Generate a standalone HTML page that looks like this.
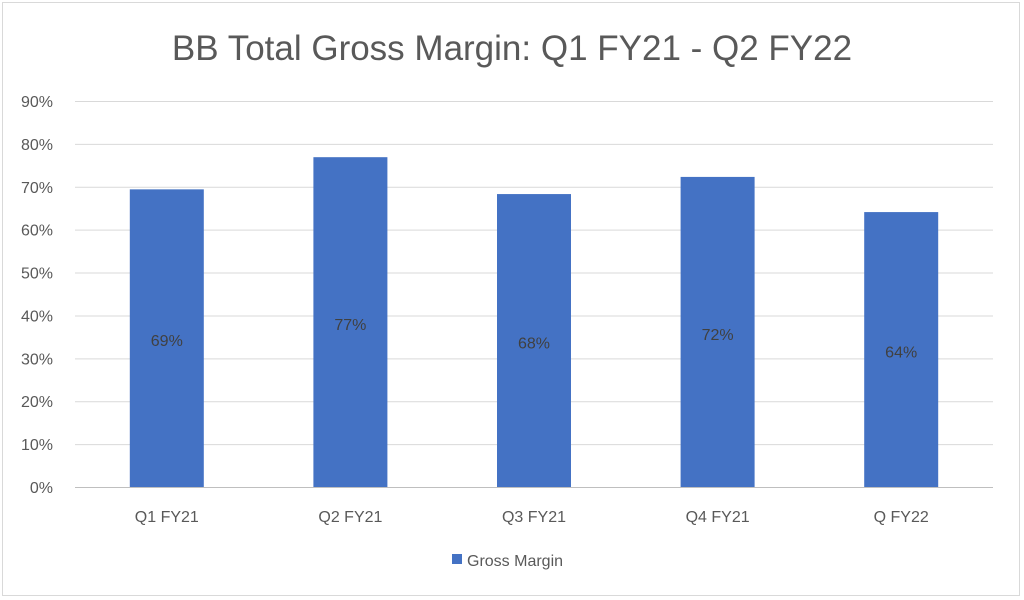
<!DOCTYPE html>
<html><head><meta charset="utf-8"><style>
html,body{margin:0;padding:0;background:#fff;}
svg{display:block;font-family:"Liberation Sans",sans-serif;}
</style></head><body>
<svg id="chart" width="1024" height="600">
<rect x="2.5" y="2.5" width="1017" height="593" fill="#fff" stroke="#d9d9d9"/>
<text x="512" y="60" text-anchor="middle" font-size="35" fill="#595959">BB Total Gross Margin: Q1 FY21 - Q2 FY22</text>
<g id="grid"></g><g id="bars"></g><g id="labels"></g>
<rect x="452" y="554" width="10" height="10" fill="#4472c4"/>
<text x="467" y="566" font-size="16" fill="#595959">Gross Margin</text>
</svg>
<script>
const categories=["Q1 FY21","Q2 FY21","Q3 FY21","Q4 FY21","Q FY22"];
const values=[69.4,76.9,68.3,72.3,64.1];
const valueLabels=["69%","77%","68%","72%","64%"];
const ticks=[0,10,20,30,40,50,60,70,80,90];
const NS="http://www.w3.org/2000/svg";
const x0=75,x1=993,yBase=487,yTop=101,maxV=90;
const y=v=>yBase-(v/maxV)*(yBase-yTop);
const band=(x1-x0)/categories.length;
const xc=i=>x0+band*(i+0.5);
function mk(tag,attrs,parent){const e=document.createElementNS(NS,tag);for(const k in attrs)e.setAttribute(k,attrs[k]);parent.appendChild(e);return e;}
const grid=document.getElementById('grid'),bars=document.getElementById('bars'),labels=document.getElementById('labels');
ticks.forEach(t=>{
  const l=mk('line',{x1:x0,x2:x1,y1:y(t)+0.5,y2:y(t)+0.5,stroke:t===0?'#bfbfbf':'#d9d9d9','stroke-width':1},grid);
  
  
  const tx=mk('text',{x:53,y:y(t)+6,'text-anchor':'end','font-size':16,fill:'#595959'},grid);
  tx.textContent=t+'%';
  
  
});
const bw=74;
categories.forEach((c,i)=>{
  const r=mk('rect',{x:xc(i)-bw/2,y:y(values[i]),width:bw,height:yBase-y(values[i]),fill:'#4472c4'},bars);
  
  
  const v=mk('text',{x:xc(i),y:(y(values[i])+yBase)/2+8,'text-anchor':'middle','font-size':16,fill:'#404040'},labels);
  v.textContent=valueLabels[i];
  
  
  const t=mk('text',{x:xc(i),y:522,'text-anchor':'middle','font-size':16,fill:'#595959'},labels);
  t.textContent=c;
  
  
});
</script>
</body></html>
